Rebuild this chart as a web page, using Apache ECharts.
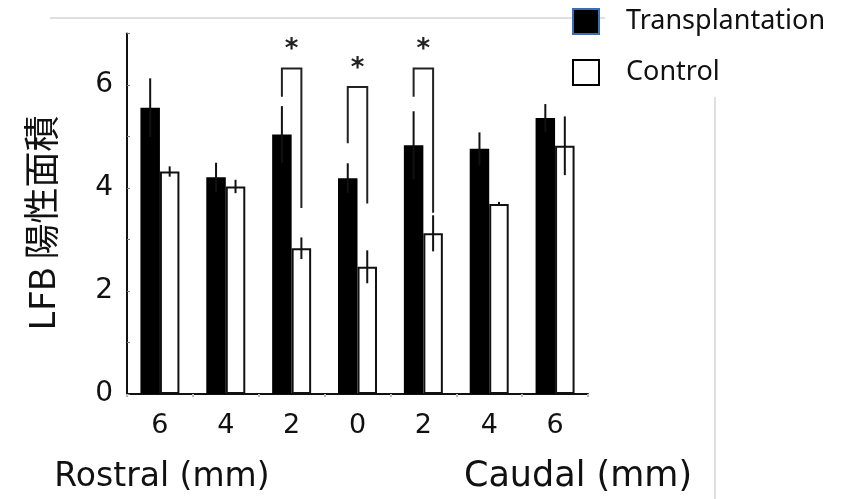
<!DOCTYPE html>
<html>
<head>
<meta charset="utf-8">
<script src="https://cdn.jsdelivr.net/npm/echarts@6/dist/echarts.min.js"></script>
<style>html,body{margin:0;padding:0;background:#fff;}#c{width:852px;height:499px;}</style>
</head>
<body>
<div id="c"></div>
<script>
// Data
var categories = ['6', '4', '2', '0', '2', '4', '6'];
var transplantation = [5.56, 4.21, 5.04, 4.19, 4.83, 4.76, 5.36];
var transplantationErr = [0.57, 0.28, 0.55, 0.29, 0.66, 0.32, 0.27];
var control = [4.32, 4.03, 2.83, 2.47, 3.12, 3.69, 4.82];
var controlErr = [0.10, 0.13, 0.21, 0.32, 0.35, 0.04, 0.57];
var sigIndex = [2, 3, 4];
var sigLeft = [5.77, 4.87, 5.77];
var sigTop = [6.32, 5.96, 6.32];
var sigRight = [3.61, 3.70, 3.52];
var yTicks = [0, 2, 4, 6];

var BAR_FRAC = 0.296;
var LABEL_FONT = 'DejaVu Sans';

function errData(vals, errs) {
  return vals.map(function (v, i) { return [i, v, errs[i]]; });
}
function errRender(side) {
  return function (params, api) {
    var i = api.value(0), v = api.value(1), e = api.value(2);
    var band = api.size([1, 0])[0];
    var bw = band * BAR_FRAC;
    var x = api.coord([i, v])[0] + side * bw / 2;
    var top = api.coord([i, v + e])[1];
    var bot = api.coord([i, v - e])[1];
    return { type: 'line', shape: { x1: x, y1: top, x2: x, y2: bot },
      style: { stroke: '#111', lineWidth: 2 } };
  };
}
var sigData = sigIndex.map(function (idx, k) { return [idx, sigLeft[k], sigTop[k], sigRight[k]]; });

var chart = echarts.init(document.getElementById('c'));
chart.setOption({
  animation: false,
  backgroundColor: '#fff',
  grid: { left: 127, right: 264, top: 33.5, bottom: 105, containLabel: false },
  legend: {
    orient: 'vertical', left: 567, top: 3, itemWidth: 26, itemHeight: 25, itemGap: 24,
    icon: 'rect', selectedMode: false,
    textStyle: { fontFamily: 'Noto Sans', fontSize: 27, color: '#111', padding: [0, 0, 0, 22] },
    data: [
      { name: 'Transplantation', itemStyle: { color: '#000', borderColor: '#3b6db3', borderWidth: 2 } },
      { name: 'Control', itemStyle: { color: '#fff', borderColor: '#000', borderWidth: 2 } }
    ]
  },
  xAxis: {
    type: 'category', data: categories,
    axisLine: { lineStyle: { color: '#111', width: 2 } },
    axisTick: { show: true, length: 3, lineStyle: { color: '#bbb', width: 2 } },
    axisLabel: { fontFamily: LABEL_FONT, fontSize: 27, color: '#111', margin: 18 }
  },
  yAxis: {
    type: 'value', min: 0, max: 7, interval: 1,
    splitLine: { show: false },
    axisLine: { show: true, lineStyle: { color: '#111', width: 2 } },
    axisTick: { show: true, inside: true, length: 3, lineStyle: { color: '#777', width: 1 } },
    axisLabel: { fontFamily: LABEL_FONT, fontSize: 28, color: '#111', margin: 14,
      formatter: function (v) { return yTicks.indexOf(v) >= 0 ? String(v) : ''; } }
  },
  series: [
    { name: 'Transplantation', type: 'bar', data: transplantation, barWidth: (BAR_FRAC * 100) + '%', barGap: '0%',
      itemStyle: { color: '#000' } },
    { name: 'Control', type: 'bar', data: control, barWidth: (BAR_FRAC * 100) + '%', barGap: '0%',
      itemStyle: { color: '#fff', borderColor: '#111', borderWidth: 2 } },
    { type: 'custom', name: 'errT', data: errData(transplantation, transplantationErr),
      encode: { x: 0, y: [1, 2] }, renderItem: errRender(-1), z: 5 },
    { type: 'custom', name: 'errC', data: errData(control, controlErr),
      encode: { x: 0, y: [1, 2] }, renderItem: errRender(1), z: 5 },
    { type: 'custom', name: 'sig', data: sigData, encode: { x: 0, y: [1, 2, 3] }, z: 6,
      renderItem: function (params, api) {
        var i = api.value(0);
        var band = api.size([1, 0])[0];
        var bw = band * BAR_FRAC;
        var cx = api.coord([i, 0])[0];
        var xl = cx - bw / 2, xr = cx + bw / 2;
        var yl = api.coord([i, api.value(1)])[1];
        var yt = api.coord([i, api.value(2)])[1];
        var yr = api.coord([i, api.value(3)])[1];
        return { type: 'group', children: [
          { type: 'polyline', shape: { points: [[xl, yl], [xl, yt], [xr, yt], [xr, yr]] },
            style: { stroke: '#222', lineWidth: 2, fill: null } },
          { type: 'text', style: { text: '*', x: cx, y: yt - 18, align: 'center', verticalAlign: 'middle',
            fontFamily: 'DejaVu Sans', fontWeight: 'bold', fontSize: 26, fill: '#222' } }
        ] };
      } }
  ],
  graphic: [
    { type: 'line', shape: { x1: 50, y1: 18, x2: 605, y2: 18 }, style: { stroke: '#d4d4d4', lineWidth: 1.5 }, silent: true },
    { type: 'line', shape: { x1: 715, y1: 97, x2: 715, y2: 499 }, style: { stroke: '#d4d4d4', lineWidth: 1.5 }, silent: true },
    { type: 'text', x: 41, y: 223, rotation: Math.PI / 2,
      style: { text: 'LFB 陽性面積', x: 0, y: 0, align: 'center', verticalAlign: 'middle',
        fontFamily: 'Noto Sans CJK JP', fontSize: 36, fill: '#111' } },
    { type: 'text', style: { text: 'Rostral (mm)', x: 162, y: 477, align: 'center', verticalAlign: 'middle',
        fontFamily: LABEL_FONT, fontSize: 33, fill: '#111' } },
    { type: 'text', style: { text: 'Caudal (mm)', x: 578, y: 477, align: 'center', verticalAlign: 'middle',
        fontFamily: LABEL_FONT, fontSize: 35, fill: '#111' } }
  ]
});
</script>
</body>
</html>
